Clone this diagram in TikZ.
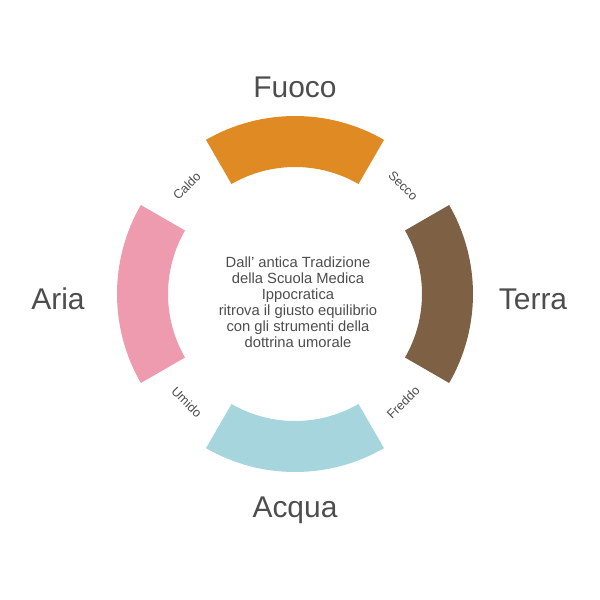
\documentclass[tikz,border=0pt]{standalone}
\usepackage{fontspec}
\setmainfont{Liberation Sans}
\usepackage{xcolor}
\usepackage{tikz}
\usetikzlibrary{positioning}

\definecolor{fuococol}{HTML}{DF8A22}
\definecolor{ariacol}{HTML}{EE9BAF}
\definecolor{terracol}{HTML}{7E6045}
\definecolor{acquacol}{HTML}{A6D5DD}
\definecolor{textcol}{HTML}{4D4D4D}

\tikzset{
    element/.style={anchor=base, text=textcol, font=\fontsize{21.3}{24}\selectfont},
    quality/.style={text=textcol, font=\fontsize{9}{10}\selectfont},
    motto/.style={text=textcol, align=center, font=\fontsize{10.5}{11.4}\selectfont}
}

\begin{document}
\begin{tikzpicture}[x=0.025cm,y=0.025cm]
        \useasboundingbox (-295,-306) rectangle (305,294);

        % Ring segments (centre angle / colour)
        \foreach \a/\c in {90/fuococol, 180/ariacol, 270/acquacol, 0/terracol}
            \fill[\c] (\a-30:178) arc (\a-30:\a+30:178) -- (\a+30:127) arc (\a+30:\a-30:127) -- cycle;

        % Elements
        \node[element] (fuoco) at (0,197) {Fuoco};
        \node[element] (aria) at (-237,-15) {Aria};
        \node[element] (terra) at (238,-15) {Terra};
        \node[element] (acqua) at (0,-223) {Acqua};

        % Qualities between the segments
        \node[quality, rotate=45] (caldo) at (135:153) {Caldo};
        \node[quality, rotate=-45] (secco) at (45:153) {Secco};
        \node[quality, rotate=-45] (umido) at (225:153) {Umido};
        \node[quality, rotate=45] (freddo) at (315:153) {Freddo};

        % Centre text
        \node[motto] (motto) at (3,-8) {Dall' antica Tradizione\\della Scuola Medica\\Ippocratica\\ritrova il giusto equilibrio\\con gli strumenti della\\dottrina umorale};
    \end{tikzpicture}
\end{document}
